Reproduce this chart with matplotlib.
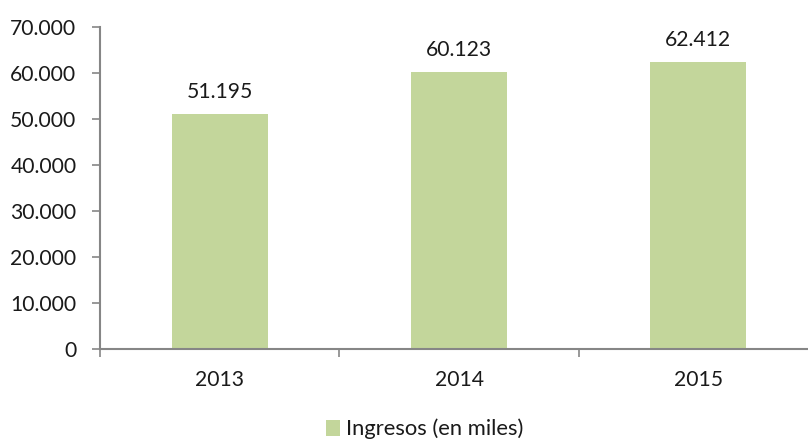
import matplotlib
matplotlib.use("Agg")
import matplotlib.pyplot as plt
from matplotlib.ticker import FuncFormatter, FixedLocator
from matplotlib.patches import Patch

years = ["2013", "2014", "2015"]
ingresos = [51195, 60123, 62412]
series_label = "Ingresos (en miles)"
y_ticks = [0, 10000, 20000, 30000, 40000, 50000, 60000, 70000]

plt.rcParams["font.family"] = ["Lato", "DejaVu Sans"]

bar_color = "#C3D69B"
axis_color = "#868686"
text_color = "#1a1a1a"
font_size = 15.2

def miles(v, pos=None):
    return f"{int(v):,}".replace(",", ".")

fig = plt.figure(figsize=(8.08, 4.42), dpi=100)
ax = fig.add_axes([100 / 808, 1 - 349 / 442, 718 / 808, 322 / 442])

x = list(range(len(years)))
ax.bar(x, ingresos, width=0.4, color=bar_color, zorder=2)

for xi, v in zip(x, ingresos):
    ax.annotate(miles(v), (xi, v), xytext=(0, 12), textcoords="offset pixels",
                ha="center", va="bottom", fontsize=font_size, color=text_color)

ax.set_xlim(-0.5, len(years) - 0.5)
ax.set_ylim(0, 70000)
ax.yaxis.set_major_locator(FixedLocator(y_ticks))
ax.yaxis.set_major_formatter(FuncFormatter(miles))

# category boundaries carry the tick marks, labels sit at the centres
ax.xaxis.set_major_locator(FixedLocator([i + 0.5 for i in range(-1, len(years))]))
ax.xaxis.set_major_formatter(FuncFormatter(lambda v, p: ""))
ax.xaxis.set_minor_locator(FixedLocator(x))
ax.set_xticklabels(years, minor=True)
ax.tick_params(axis="x", which="minor", length=0, pad=15, labelsize=font_size,
               labelcolor=text_color)
ax.tick_params(axis="x", which="major", length=6, width=1.2, color=axis_color,
               direction="out")
ax.tick_params(axis="y", length=6, width=1.2, color=axis_color, direction="out",
               pad=11, labelsize=font_size, labelcolor=text_color)

for side in ("top", "right"):
    ax.spines[side].set_visible(False)
for side in ("left", "bottom"):
    ax.spines[side].set_color(axis_color)
    ax.spines[side].set_linewidth(1.5)

handle = Patch(facecolor=bar_color, edgecolor="none")
fig.legend([handle], [series_label], loc="center", bbox_to_anchor=(425 / 808, 1 - 429 / 442),
           frameon=False, fontsize=15.8, handlelength=0.6, handleheight=0.75,
           handletextpad=0.3, labelcolor=text_color)

fig.savefig("out.png", dpi=100)
